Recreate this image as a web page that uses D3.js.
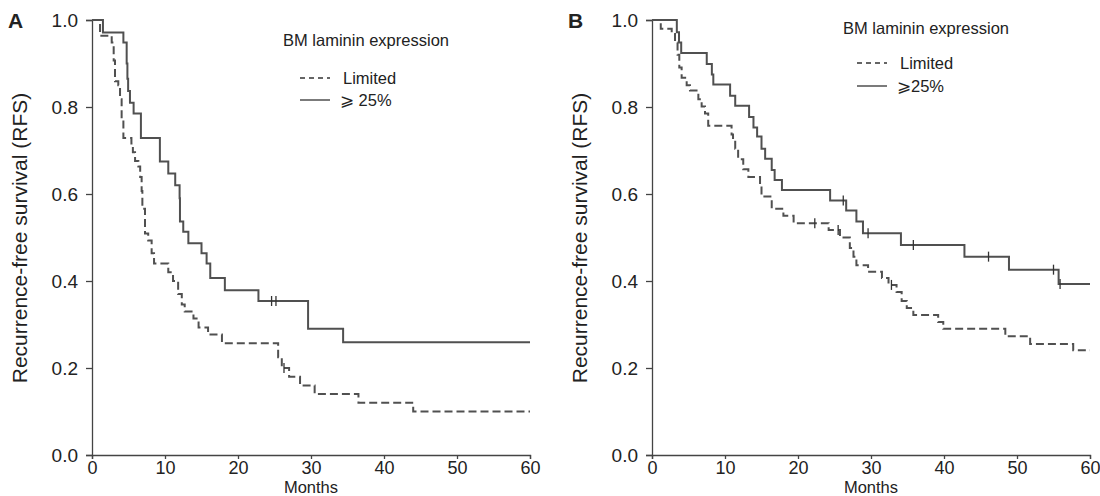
<!DOCTYPE html>
<html>
<head>
<meta charset="utf-8">
<script src="https://cdn.jsdelivr.net/npm/d3@7"></script>
<style>
  body { margin: 0; background: #fff; }
  text { font-family: "Liberation Sans", Arial, sans-serif; fill: #222; }
</style>
</head>
<body>
<svg width="1100" height="496"></svg>
<script>
// tick labels
const monthTicks = [0, 10, 20, 30, 40, 50, 60];
const rfsTicks = [0, 0.2, 0.4, 0.6, 0.8, 1.0];
const legendTitle = "BM laminin expression";
const groupNamesA = ["Limited", "\u2A7E 25%"];
const groupNamesB = ["Limited", "\u2A7E25%"];

// Panel A: [months, RFS] at each step
const aLimited = [[0,1],[1.1,0.964],[2.7,0.948],[2.97,0.907],[3.15,0.859],[3.6,0.85],[3.84,0.818],[4.06,0.769],[4.3,0.729],[5.4,0.716],[5.6,0.696],[5.9,0.676],[6.35,0.663],[6.6,0.639],[6.8,0.607],[6.9,0.566],[7.26,0.509],[7.7,0.493],[8.17,0.464],[8.5,0.44],[10.45,0.42],[11.1,0.40],[11.8,0.37],[12.3,0.346],[12.7,0.33],[13.9,0.314],[14.6,0.293],[15.9,0.277],[17.8,0.257],[25.5,0.225],[26.0,0.2],[27.0,0.18],[28.5,0.16],[30.5,0.14],[36.5,0.12],[44.0,0.10]];
const aLimitedCensor = [[26.3,0.2]];
const aHigh = [[0,1],[1.5,0.971],[4.3,0.948],[4.75,0.9],[4.85,0.865],[4.95,0.837],[5.2,0.81],[5.7,0.785],[6.7,0.729],[9.3,0.675],[10.45,0.647],[11.4,0.62],[12.0,0.59],[12.05,0.537],[12.5,0.513],[13.2,0.487],[15.0,0.464],[15.7,0.44],[16.2,0.407],[18.2,0.379],[22.8,0.354],[29.6,0.29],[34.4,0.259]];
const aHighCensor = [[24.6,0.354],[25.2,0.354]];

// Panel B
const bLimited = [[0,1],[1.2,0.98],[2.7,0.968],[3.15,0.948],[3.5,0.92],[3.74,0.891],[4.06,0.867],[4.75,0.85],[5.2,0.838],[6.35,0.818],[6.8,0.801],[7.26,0.785],[7.7,0.757],[10.9,0.737],[11.1,0.72],[11.4,0.704],[11.8,0.68],[12.5,0.657],[13.2,0.639],[14.8,0.615],[15.0,0.594],[16.4,0.566],[18.0,0.55],[19.4,0.533],[24.2,0.517],[25.75,0.50],[27.1,0.476],[27.6,0.456],[28.0,0.436],[29.6,0.421],[31.5,0.407],[32.4,0.391],[33.5,0.375],[34.2,0.354],[34.9,0.338],[35.8,0.322],[39.2,0.306],[39.9,0.29],[48.4,0.273],[51.8,0.255],[57.7,0.241]];
const bLimitedCensor = [[22.3,0.533],[25.5,0.517],[32.8,0.391]];
const bHigh = [[0,1],[3.4,0.972],[3.7,0.948],[4.0,0.924],[7.5,0.899],[8.2,0.875],[8.4,0.852],[10.7,0.826],[11.4,0.803],[13.3,0.777],[13.9,0.753],[14.4,0.732],[15.0,0.704],[15.5,0.681],[16.4,0.655],[16.8,0.632],[17.8,0.609],[24.4,0.585],[26.6,0.562],[28.0,0.537],[28.9,0.51],[34.1,0.483],[42.8,0.456],[48.9,0.426],[55.7,0.393]];
const bHighCensor = [[26.2,0.585],[29.6,0.51],[35.8,0.483],[46.1,0.456],[55.0,0.426],[55.9,0.393]];

const svg = d3.select("svg");
const lineColor = "#505050";
const dashStyle = "8,4";
const yTop = 20, yBottom = 455;

function drawPanel(p) {
  const x = d3.scaleLinear().domain([0, 60]).range([p.left, p.left + 438]);
  const y = d3.scaleLinear().domain([0, 1]).range([yBottom, yTop]);
  const g = svg.append("g");

  // axes
  const yAxis = g.append("g").attr("transform", `translate(${p.left},0)`)
    .call(d3.axisLeft(y).tickValues(rfsTicks).tickFormat(d3.format(".1f")).tickSize(6).tickPadding(8));
  const xAxis = g.append("g").attr("transform", `translate(0,${yBottom})`)
    .call(d3.axisBottom(x).tickValues(monthTicks).tickSize(4).tickPadding(2));
  [xAxis, yAxis].forEach(a => {
    a.selectAll("path, line").attr("stroke", "#444").attr("stroke-width", 1.3);
    a.selectAll("text").attr("font-size", a === xAxis ? 18 : 19).attr("fill", "#222")
      .style("font-family", "'Liberation Sans', Arial, sans-serif");
  });

  g.append("text").attr("x", (x(0) + x(60)) / 2).attr("y", 493)
    .attr("text-anchor", "middle").attr("font-size", 16.5).text("Months");
  g.append("text").attr("transform", `translate(${p.left - 65},238) rotate(-90)`)
    .attr("text-anchor", "middle").attr("font-size", 21).text("Recurrence-free survival (RFS)");
  g.append("text").attr("x", p.left - 84).attr("y", 28)
    .attr("font-size", 21).attr("font-weight", "bold").text(p.letter);

  // step curves
  const step = d3.line().x(d => x(d[0])).y(d => y(d[1])).curve(d3.curveStepAfter);
  const withEnd = s => s.concat([[60, s[s.length - 1][1]]]);
  g.append("path").attr("d", step(withEnd(p.limited))).attr("fill", "none")
    .attr("stroke", lineColor).attr("stroke-width", 2).attr("stroke-dasharray", dashStyle);
  g.append("path").attr("d", step(withEnd(p.high))).attr("fill", "none")
    .attr("stroke", lineColor).attr("stroke-width", 2);

  // censor marks
  g.selectAll(null).data(p.limitedCensor.concat(p.highCensor)).join("line")
    .attr("x1", d => x(d[0])).attr("x2", d => x(d[0]))
    .attr("y1", d => y(d[1]) - 5).attr("y2", d => y(d[1]) + 5)
    .attr("stroke", "#333").attr("stroke-width", 1.3);

  // legend
  const L = p.legend;
  g.append("text").attr("x", L.x).attr("y", L.y).attr("font-size", 16.5).text(legendTitle);
  L.rows.forEach((ly, i) => {
    g.append("line").attr("x1", L.x + L.dx).attr("x2", L.x + L.dx + 30)
      .attr("y1", ly - 6).attr("y2", ly - 6).attr("stroke", "#333").attr("stroke-width", 1.3)
      .attr("stroke-dasharray", i === 0 ? "5,4" : null);
    g.append("text").attr("x", L.x + L.dx + (i === 0 ? 43 : 40)).attr("y", ly)
      .attr("font-size", 16.5).text(p.names[i]);
  });
}

drawPanel({ letter: "A", left: 92, limited: aLimited, high: aHigh, names: groupNamesA,
  limitedCensor: aLimitedCensor, highCensor: aHighCensor,
  legend: { x: 283, y: 46, dx: 17, rows: [84, 106] } });
drawPanel({ letter: "B", left: 652, limited: bLimited, high: bHigh, names: groupNamesB,
  limitedCensor: bLimitedCensor, highCensor: bHighCensor,
  legend: { x: 843, y: 34, dx: 14, rows: [69, 92] } });
</script>
</body>
</html>
